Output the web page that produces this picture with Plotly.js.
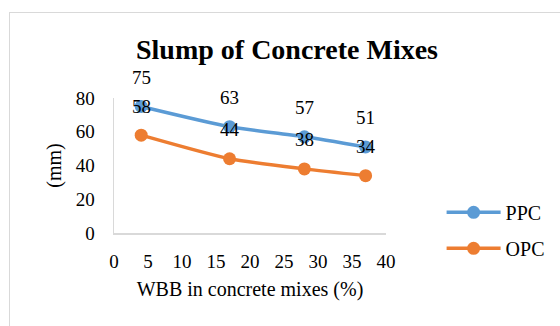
<!DOCTYPE html>
<html>
<head>
<meta charset="utf-8">
<script src="https://cdn.plot.ly/plotly-3.0.1.min.js"></script>
<style>
  html, body { margin: 0; padding: 0; background: #ffffff; }
  #wrap { position: relative; width: 560px; height: 326px; overflow: hidden; }
  #frame { position: absolute; left: 9px; top: 12px; width: 600px; height: 400px;
           border: 1.5px solid #d9d9d9; box-sizing: border-box; }
  #chart { position: absolute; left: 0; top: 0; width: 560px; height: 326px; }
</style>
</head>
<body>
<div id="wrap">
  <div id="frame"></div>
  <div id="chart"></div>
</div>
<script>
// WBB replacement level (%) for each mix
const wbb = [4, 17, 28, 37];
// Slump values (mm)
const ppc = [75, 63, 57, 51];
const opc = [58, 44, 38, 34];
const seriesNames = ['PPC', 'OPC'];
const seriesColors = ['#5b9bd5', '#ed7d31'];
const xTicks = [0, 5, 10, 15, 20, 25, 30, 35, 40];
const yTicks = [0, 20, 40, 60, 80];

const serif = 'Liberation Serif, Times New Roman, serif';

function lineTrace(values, idx) {
  return {
    x: wbb,
    y: values,
    name: seriesNames[idx],
    legendgroup: seriesNames[idx],
    type: 'scatter',
    mode: 'lines+markers',
    line: { color: seriesColors[idx], width: 3.5, shape: 'spline', smoothing: 0.6 },
    marker: { color: seriesColors[idx], size: 13 },
    hoverinfo: 'x+y'
  };
}

// Value labels sit a little above each point
function valueLabels(values) {
  return values.map((v, i) => ({
    x: wbb[i], y: v, xref: 'x', yref: 'y',
    text: String(v), showarrow: false, yshift: 29,
    font: { family: serif, size: 19, color: '#000000' }
  }));
}

const data = [lineTrace(ppc, 0), lineTrace(opc, 1)];

const axisCommon = {
  showgrid: false,
  zeroline: false,
  showline: true,
  linecolor: '#d9d9d9',
  linewidth: 1.5,
  ticks: 'outside',
  tickcolor: 'rgba(0,0,0,0)',
  fixedrange: true
};

const layout = {
  width: 560,
  height: 326,
  margin: { l: 114, r: 173, t: 98, b: 93 },
  paper_bgcolor: 'rgba(0,0,0,0)',
  plot_bgcolor: 'rgba(0,0,0,0)',
  font: { family: serif, color: '#000000' },
  title: {
    text: 'Slump of Concrete Mixes',
    font: { family: serif, size: 28, color: '#000000', weight: 'bold' },
    xref: 'container', x: 0.5125, xanchor: 'center',
    yref: 'container', y: 0.85, yanchor: 'middle'
  },
  xaxis: Object.assign({}, axisCommon, {
    range: [0, 40],
    tickvals: xTicks,
    ticktext: xTicks.map(String),
    ticklen: 11,
    tickfont: { family: serif, size: 19, color: '#000000' },
    title: { text: 'WBB in concrete mixes (%)', standoff: 10,
             font: { family: serif, size: 20, color: '#000000' } }
  }),
  yaxis: Object.assign({}, axisCommon, {
    range: [0, 80],
    tickvals: yTicks,
    ticktext: yTicks.map(String),
    ticklen: 14,
    tickfont: { family: serif, size: 19, color: '#000000' },
    title: { text: '(mm)', standoff: 8,
             font: { family: serif, size: 20, color: '#000000' } }
  }),
  showlegend: true,
  legend: {
    x: 1.2, xanchor: 'left',
    y: 0.02, yanchor: 'middle',
    font: { family: serif, size: 20, color: '#000000' },
    tracegroupgap: 7,
    itemwidth: 54,
    bgcolor: 'rgba(0,0,0,0)'
  },
  annotations: valueLabels(ppc).concat(valueLabels(opc))
};

Plotly.newPlot('chart', data, layout, { displayModeBar: false, staticPlot: true });
</script>
</body>
</html>
